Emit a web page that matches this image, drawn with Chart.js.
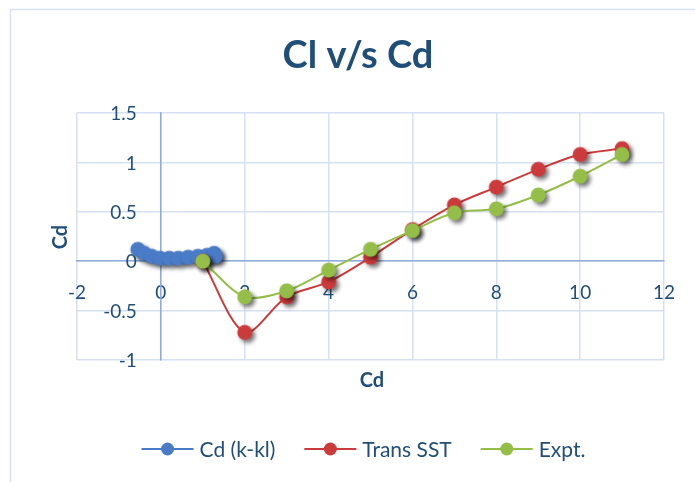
<!DOCTYPE html>
<html>
<head>
<meta charset="utf-8">
<title>Cl v/s Cd</title>
<script src="https://cdn.jsdelivr.net/npm/chart.js@4/dist/chart.umd.min.js"></script>
<style>
  html, body { margin: 0; padding: 0; background: #fff; }
  #wrap { position: relative; width: 695px; height: 482px; }
</style>
</head>
<body>
<div id="wrap"><canvas id="clCdChart" width="695" height="482"></canvas></div>
<script>
// Data
const seriesNames = ['Cd (k-kl)', 'Trans SST', 'Expt.'];
const kklCd = [-0.55, -0.4, -0.22, -0.02, 0.2, 0.42, 0.65, 0.88, 1.1, 1.27, 1.3];
const kklCl = [0.12, 0.08, 0.05, 0.03, 0.03, 0.03, 0.04, 0.05, 0.06, 0.08, 0.05];
const sstCd = [1, 2, 3, 4, 5, 6, 7, 8, 9, 10, 11];
const sstCl = [0, -0.72, -0.36, -0.21, 0.04, 0.32, 0.57, 0.75, 0.93, 1.08, 1.14];
const exptCd = [1, 2, 3, 4, 5, 6, 7, 8, 9, 10, 11];
const exptCl = [0, -0.36, -0.30, -0.09, 0.12, 0.31, 0.49, 0.53, 0.67, 0.86, 1.08];
const xTicks = [-2, 0, 2, 4, 6, 8, 10, 12];
const yTicks = [-1, -0.5, 0, 0.5, 1, 1.5];

const colors = ['#4A7BC6', '#CC3B3B', '#95BE48'];
const textColor = '#1F4E79';
const gridColor = '#D5E0F2';
const axisColor = '#8FAADC';

function toPoints(xs, ys) {
    return xs.map((x, i) => ({ x: x, y: ys[i] }));
}

// marker with a soft drop shadow, like the Excel markers
function makeDot(color) {
    const c = document.createElement('canvas');
    c.width = 30; c.height = 30;
    const g = c.getContext('2d');
    g.shadowColor = 'rgba(0,0,0,0.55)';
    g.shadowBlur = 4;
    g.shadowOffsetX = 3;
    g.shadowOffsetY = 3;
    g.beginPath();
    g.arc(15, 15, 7.5, 0, Math.PI * 2);
    g.fillStyle = color;
    g.fill();
    return c;
}

// y tick labels sit left of the y axis line (which crosses at x = 0)
const yLabelPlugin = {
    id: 'yLabels',
    beforeDatasetsDraw(chart) {
        const ctx = chart.ctx;
        const xs = chart.scales.x, ys = chart.scales.y;
        const x0 = xs.getPixelForValue(0);
        ctx.save();
        ctx.fillStyle = textColor;
        ctx.font = '19px Lato';
        ctx.textAlign = 'right';
        ctx.textBaseline = 'middle';
        yTicks.forEach(v => {
            ctx.fillText(String(v), x0 - 24, ys.getPixelForValue(v) + 1);
        });
        ctx.restore();
    }
};

// title, axis titles, legend and outer frame
const decorPlugin = {
    id: 'decor',
    afterDraw(chart) {
        const ctx = chart.ctx;
        ctx.save();
        ctx.strokeStyle = '#D6E1F1';
        ctx.lineWidth = 1.5;
        ctx.strokeRect(10.5, 9.5, 700, 490);

        ctx.fillStyle = textColor;
        ctx.textAlign = 'center';
        ctx.textBaseline = 'alphabetic';
        ctx.font = 'bold 38px Lato';
        ctx.fillText('Cl v/s Cd', 358, 68);

        ctx.font = 'bold 20px Lato';
        ctx.fillText('Cd', 372, 387);
        ctx.save();
        ctx.translate(67, 237);
        ctx.rotate(-Math.PI / 2);
        ctx.fillText('Cd', 0, 0);
        ctx.restore();

        // legend: line + marker + label
        ctx.font = '21px Lato';
        const lineLen = 52, gap = 6, itemGap = 29;
        const widths = seriesNames.map(n => lineLen + gap + ctx.measureText(n).width);
        const total = widths.reduce((a, b) => a + b, 0) + itemGap * (seriesNames.length - 1);
        let x = 363.5 - total / 2;
        const y = 449;
        ctx.textAlign = 'left';
        ctx.textBaseline = 'middle';
        seriesNames.forEach((name, i) => {
            ctx.strokeStyle = colors[i];
            ctx.lineWidth = 2;
            ctx.beginPath();
            ctx.moveTo(x, y);
            ctx.lineTo(x + lineLen, y);
            ctx.stroke();
            ctx.fillStyle = colors[i];
            ctx.beginPath();
            ctx.arc(x + lineLen / 2, y, 6.5, 0, Math.PI * 2);
            ctx.fill();
            ctx.fillStyle = textColor;
            ctx.fillText(name, x + lineLen + gap, y + 1);
            x += widths[i] + itemGap;
        });
        ctx.restore();
    }
};

const ctx = document.getElementById('clCdChart');
new Chart(ctx, {
    type: 'scatter',
    data: {
        datasets: [
            { label: seriesNames[0], data: toPoints(kklCd, kklCl), order: 3 },
            { label: seriesNames[1], data: toPoints(sstCd, sstCl), order: 2 },
            { label: seriesNames[2], data: toPoints(exptCd, exptCl), order: 1 }
        ].map((ds, i) => Object.assign(ds, {
            showLine: true,
            borderColor: colors[i],
            backgroundColor: colors[i],
            borderWidth: 2,
            tension: 0.3,
            pointStyle: makeDot(colors[i]),
            pointRadius: 7,
            pointHoverRadius: 7
        }))
    },
    options: {
        responsive: false,
        animation: false,
        layout: { padding: { left: 77, top: 113, right: 28, bottom: 122 } },
        plugins: {
            legend: { display: false },
            title: { display: false },
            tooltip: { enabled: false }
        },
        scales: {
            x: {
                type: 'linear',
                min: -2, max: 12,
                position: { y: 0 },
                afterBuildTicks: axis => { axis.ticks = xTicks.map(v => ({ value: v })); },
                grid: { color: gridColor, lineWidth: 1.5, drawTicks: false },
                border: { display: true, color: axisColor, width: 1.5 },
                ticks: { color: textColor, font: { family: 'Lato', size: 19 }, padding: 20, maxRotation: 0 }
            },
            y: {
                type: 'linear',
                min: -1, max: 1.5,
                position: { x: 0 },
                afterBuildTicks: axis => { axis.ticks = yTicks.map(v => ({ value: v })); },
                grid: { color: gridColor, lineWidth: 1.5, drawTicks: false },
                border: { display: true, color: axisColor, width: 1.5 },
                ticks: { display: false }
            }
        }
    },
    plugins: [yLabelPlugin, decorPlugin]
});
</script>
</body>
</html>
